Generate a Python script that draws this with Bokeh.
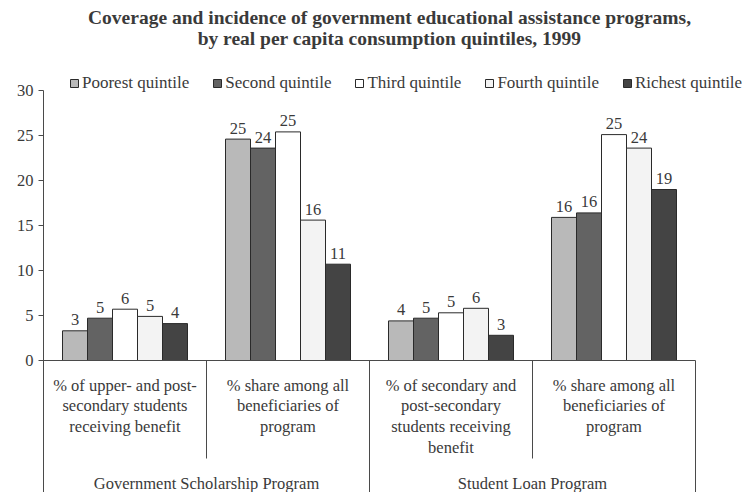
import numpy as np
from bokeh.plotting import figure
from bokeh.models import Range1d, FixedTicker, Legend, LegendItem
from bokeh.core.properties import value
from bokeh.embed import file_html
from bokeh.resources import INLINE

# ---- data ----
title_text = ("Coverage and incidence of government educational assistance programs,\n"
              "by real per capita consumption quintiles, 1999")
programs = ["Government Scholarship Program", "Student Loan Program"]
indicators = [
    "% of upper- and post-\nsecondary students\nreceiving benefit",
    "% share among all\nbeneficiaries of\nprogram",
    "% of secondary and\npost-secondary\nstudents receiving\nbenefit",
    "% share among all\nbeneficiaries of\nprogram",
]
quintiles = ["Poorest quintile", "Second quintile", "Third quintile",
             "Fourth quintile", "Richest quintile"]
poorest = [3.3, 24.6, 4.4, 15.9]
second = [4.7, 23.6, 4.7, 16.4]
third = [5.7, 25.4, 5.3, 25.1]
fourth = [4.9, 15.6, 5.8, 23.6]
richest = [4.1, 10.7, 2.8, 19.0]
y_ticks = [0, 5, 10, 15, 20, 25, 30]

series = [poorest, second, third, fourth, richest]
fills = ["#b9b9b9", "#636363", "#ffffff", "#f3f3f3", "#444444"]

# ---- layout ----
W, H = 742, 492
LEFT = 43            # width of the axis gutter
CAT_PX = 163         # pixels per indicator column
UNIT_PX = 9          # pixels per percentage point
TOP_PX = 90          # screen row of the 30 % gridline
y_end = 30 + TOP_PX / UNIT_PX
y_start = 30 - (H - TOP_PX) / UNIT_PX
x_end = (W - LEFT) / CAT_PX
BAR_W = 25 / CAT_PX

SERIF = "Liberation Serif"
FS = "16.5px"
INK = "#3a3a3a"
LINE = "#4a4a4a"

p = figure(width=W, height=H, output_backend="svg", toolbar_location=None,
           x_range=Range1d(0, x_end), y_range=Range1d(y_start, y_end),
           min_border_left=LEFT, min_border_right=0, min_border_top=0,
           min_border_bottom=0, outline_line_color=None,
           background_fill_color="white", border_fill_color="white")
p.xgrid.visible = False
p.ygrid.visible = False
p.xaxis.visible = False

ax = p.yaxis[0]
ax.ticker = FixedTicker(ticks=y_ticks)
ax.bounds = (y_start, 30)
ax.axis_line_color = LINE
ax.major_tick_line_color = LINE
ax.major_tick_out = 5
ax.major_tick_in = 0
ax.minor_tick_out = 0
ax.minor_tick_in = 0
ax.major_label_standoff = 5
ax.major_label_text_font = SERIF
ax.major_label_text_font_size = FS
ax.major_label_text_color = INK

centers = np.arange(len(indicators)) + 0.5

# bars and their value labels
items = []
for qi, (name, vals, color) in enumerate(zip(quintiles, series, fills)):
    xs = centers + (qi - 2) * BAR_W
    r = p.vbar(x=xs, top=vals, width=BAR_W, bottom=0, fill_color=color,
               line_color="#2a2a2a", line_width=1)
    items.append(LegendItem(label=name, renderers=[r]))
    p.text(x=xs, y=vals, text=[str(int(v + 0.5)) for v in vals],
           text_align="center", text_baseline="alphabetic", y_offset=-11,
           text_font=value(SERIF), text_font_size=FS, text_color=INK)

# table lines beneath the bars
bounds = np.arange(len(indicators) + 1)
p.segment(x0=[bounds[0]], y0=[0], x1=[bounds[-1]], y1=[0],
          line_color=LINE, line_width=1)
inner = bounds[1:-1:2]
outer = bounds[2::2]
inner_bottom = -(458 - 360) / UNIT_PX
p.segment(x0=inner, y0=[0] * len(inner), x1=inner, y1=[inner_bottom] * len(inner),
          line_color=LINE, line_width=1)
p.segment(x0=outer, y0=[0] * len(outer), x1=outer, y1=[y_start] * len(outer),
          line_color=LINE, line_width=1)

# indicator labels
p.text(x=centers, y=[-15 / UNIT_PX] * len(indicators), text=indicators,
       text_align="center", text_baseline="top", text_line_height=1.1,
       text_font=value(SERIF), text_font_size=FS, text_color=INK)

# program labels
prog_centers = centers.reshape(len(programs), -1).mean(axis=1)
p.text(x=prog_centers, y=[-(483 - 360) / UNIT_PX] * len(programs), text=programs,
       text_align="center", text_baseline="middle",
       text_font=value(SERIF), text_font_size=FS, text_color=INK)

# title
p.text(x=[(389 - LEFT) / CAT_PX], y=[y_end - 6 / UNIT_PX], text=[title_text],
       text_align="center", text_baseline="top", text_line_height=1.04,
       text_font=value(SERIF), text_font_size="19.5px", text_font_style="bold",
       text_color=INK)

legend = Legend(items=items, orientation="horizontal",
                location=(69 - LEFT, H - 93),
                glyph_width=10, glyph_height=10, label_standoff=3, spacing=23,
                padding=0, margin=0, border_line_alpha=0, background_fill_alpha=0,
                label_text_font=SERIF, label_text_font_size="17px",
                label_text_color=INK)
p.add_layout(legend)

open("out.html", "w").write(file_html(p, INLINE))
